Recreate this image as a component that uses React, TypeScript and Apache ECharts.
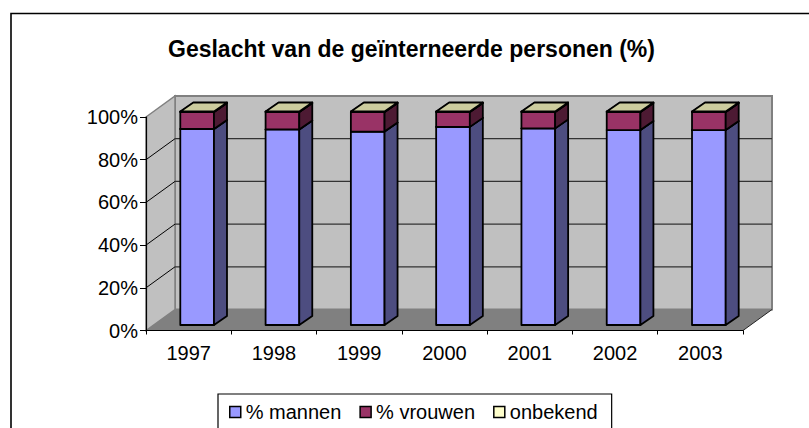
import React, { useEffect, useRef } from "react";
import * as echarts from "echarts";

const years = ["1997", "1998", "1999", "2000", "2001", "2002", "2003"];
const mannen = [91.8, 91.6, 90.6, 92.8, 92.1, 91.3, 91.3];
const vrouwen = [8.0, 8.2, 9.2, 7.0, 7.7, 8.5, 8.5];
const onbekend = [0.2, 0.2, 0.2, 0.2, 0.2, 0.2, 0.2];
const seriesNames = ["% mannen", "% vrouwen", "onbekend"];
const gridValues = [20, 40, 60, 80];

const FONT = "Liberation Sans, Arial, sans-serif";
const DX = 29;
const DY = -21;
const BX = 8.5;
const BY = -5.5;
const BDX = 13;
const BDY = -9;

const faceColors = [
  { front: "#9999ff", side: "#4d4d80", top: "#7a7acc" },
  { front: "#993366", side: "#4d1a33", top: "#7a2952" },
  { front: "#ffffcc", side: "#808066", top: "#cccc9e" },
];

function barRender(colors: { front: string; side: string; top: string }) {
  return (params: any, api: any) => {
    const i = api.value(0);
    const s = api.value(1);
    const e = api.value(2);
    const p0 = api.coord([i, s]);
    const p1 = api.coord([i, e]);
    const bw = api.size([1, 0])[0] * 0.395;
    const x0 = p0[0] + BX - bw / 2;
    const x1 = x0 + bw;
    const yb = p0[1] + BY;
    const yt = p1[1] + BY;
    const st = { stroke: "#000", lineWidth: 1.8, lineJoin: "round" };
    return {
      type: "group",
      children: [
        {
          type: "polygon",
          shape: { points: [[x0, yb], [x1, yb], [x1, yt], [x0, yt]] },
          style: { ...st, fill: colors.front },
        },
        {
          type: "polygon",
          shape: { points: [[x1, yb], [x1 + BDX, yb + BDY], [x1 + BDX, yt + BDY], [x1, yt]] },
          style: { ...st, fill: colors.side },
        },
        {
          type: "polygon",
          shape: { points: [[x0, yt], [x1, yt], [x1 + BDX, yt + BDY], [x0 + BDX, yt + BDY]] },
          style: { ...st, fill: colors.top },
        },
      ],
    };
  };
}

function wallRender(params: any, api: any) {
  const cs = params.coordSys;
  const x = cs.x;
  const y = cs.y;
  const w = cs.width;
  const h = cs.height;
  const children: any[] = [
    {
      type: "polygon",
      shape: { points: [[x + DX, y + DY], [x + w + DX, y + DY], [x + w + DX, y + h + DY], [x + DX, y + h + DY]] },
      style: { fill: "#c0c0c0", stroke: "#808080", lineWidth: 2 },
    },
    {
      type: "polygon",
      shape: { points: [[x, y], [x + DX, y + DY], [x + DX, y + h + DY], [x, y + h]] },
      style: { fill: "#c0c0c0", stroke: "#808080", lineWidth: 1.5 },
    },
    {
      type: "polygon",
      shape: { points: [[x, y + h], [x + DX, y + h + DY], [x + w + DX, y + h + DY], [x + w, y + h]] },
      style: { fill: "#808080", stroke: "none" },
    },
    {
      type: "line",
      shape: { x1: x + w, y1: y + h, x2: x + w + DX, y2: y + h + DY },
      style: { stroke: "#222", lineWidth: 1 },
    },
  ];
  gridValues.forEach((v) => {
    const yv = api.coord([0, v])[1];
    children.push({
      type: "line",
      shape: { x1: x, y1: yv, x2: x + DX, y2: yv + DY },
      style: { stroke: "#000", lineWidth: 1 },
    });
    children.push({
      type: "line",
      shape: { x1: x + DX, y1: yv + DY, x2: x + w + DX, y2: yv + DY },
      style: { stroke: "#333", lineWidth: 1.2 },
    });
  });
  return { type: "group", children };
}

export default function App() {
  const ref = useRef<HTMLDivElement>(null);
  useEffect(() => {
    if (!ref.current) return;
    const chart = echarts.init(ref.current, null, { renderer: "svg" });
    const segs = [mannen, vrouwen, onbekend];
    const barSeries = segs.map((vals, k) => {
      const data = vals.map((v, i) => {
        let start = 0;
        for (let j = 0; j < k; j++) start += segs[j][i];
        return [i, start, start + v];
      });
      return {
        name: seriesNames[k],
        type: "custom",
        z: 3,
        renderItem: barRender(faceColors[k]),
        itemStyle: { color: faceColors[k].front },
        encode: { x: 0, y: [1, 2] },
        data,
      };
    });
    chart.setOption({
      animation: false,
      backgroundColor: "#fff",
      title: {
        text: "Geslacht van de geïnterneerde personen (%)",
        left: 163,
        top: 32,
        textStyle: { fontFamily: FONT, fontSize: 23, fontWeight: "bold", color: "#000" },
      },
      legend: {
        data: seriesNames,
        left: 218,
        top: 394,
        icon: "rect",
        itemWidth: 11,
        itemHeight: 11,
        itemGap: 18,
        padding: [8, 14, 20, 11],
        borderColor: "#000",
        borderWidth: 1.2,
        itemStyle: { borderColor: "#000", borderWidth: 1.5 },
        textStyle: { fontFamily: FONT, fontSize: 20, color: "#000" },
      },
      grid: { left: 146, top: 117, width: 597, height: 213.5 },
      xAxis: {
        type: "category",
        data: years,
        z: 5,
        axisLine: { lineStyle: { color: "#000", width: 1.2 } },
        axisTick: { show: true, length: 4, lineStyle: { color: "#000" } },
        axisLabel: { fontFamily: FONT, fontSize: 20, color: "#000", margin: 12 },
        splitLine: { show: false },
      },
      yAxis: {
        type: "value",
        min: 0,
        max: 100,
        interval: 20,
        z: 5,
        axisLine: { show: true, lineStyle: { color: "#000", width: 1.2 } },
        axisTick: { show: true, length: 6, lineStyle: { color: "#000" } },
        axisLabel: { fontFamily: FONT, fontSize: 20, color: "#000", margin: 8, formatter: "{value}%" },
        splitLine: { show: false },
      },
      graphic: [
        {
          type: "rect",
          shape: { x: 11, y: 13.5, width: 830, height: 450 },
          style: { fill: "none", stroke: "#000", lineWidth: 1.6 },
          z: 10,
        },
      ],
      series: [
        {
          name: "walls",
          type: "custom",
          z: 1,
          renderItem: wallRender,
          data: [[0, 0]],
          silent: true,
        },
        ...barSeries,
      ],
    });
    return () => chart.dispose();
  }, []);
  return (
    <div
      ref={ref}
      style={{ position: "fixed", left: 0, top: 0, width: 809, height: 428 }}
    />
  );
}
